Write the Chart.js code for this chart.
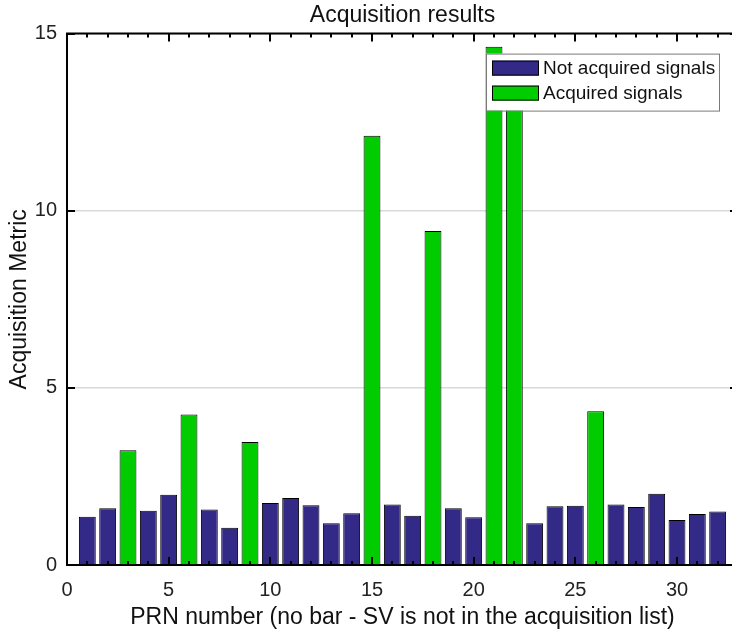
<!DOCTYPE html>
<html>
<head>
<meta charset="utf-8">
<script src="https://cdn.jsdelivr.net/npm/chart.js@4/dist/chart.umd.min.js"></script>
<style>
  html, body { margin: 0; padding: 0; background: #fff; overflow: hidden; }
  #wrap { width: 732px; height: 633px; overflow: hidden; }
</style>
</head>
<body>
<div id="wrap"><canvas id="acq" width="740" height="633"></canvas></div>
<script>
// PRN numbers and acquisition metric
const prns = [1, 2, 3, 4, 5, 6, 7, 8, 9, 10, 11, 12, 13, 14, 15, 16,
              17, 18, 19, 20, 21, 22, 23, 24, 25, 26, 27, 28, 29, 30, 31, 32];
const metric = [1.36, 1.60, 3.24, 1.53, 1.98, 4.25, 1.57, 1.05, 3.47, 1.75, 1.89, 1.69, 1.18, 1.46, 12.12, 1.71,
                1.39, 9.43, 1.60, 1.35, 14.63, 13.60, 1.18, 1.66, 1.67, 4.34, 1.71, 1.64, 2.01, 1.27, 1.44, 1.51];
const acquiredPrns = [3, 6, 9, 15, 18, 21, 22, 26];
const xTicks = [0, 5, 10, 15, 20, 25, 30];
const yTicks = [0, 5, 10, 15];

const NAVY = "#332a87";
const GREEN = "#00cc00";
const FONT = "'Liberation Sans', Arial, sans-serif";

const notAcq = [], acq = [];
prns.forEach((p, i) => {
  const pt = { x: p, y: metric[i] };
  if (acquiredPrns.includes(p)) acq.push(pt); else notAcq.push(pt);
});

/* =======================
   TICKS (inward) + TOP BORDER
======================= */
const boxTicks = {
  id: "boxTicks",
  afterDatasetsDraw(chart) {
    const { ctx, chartArea: a, scales: { x, y } } = chart;
    ctx.save();
    ctx.strokeStyle = "#000";
    ctx.lineWidth = 2;
    // minor + major ticks, top and bottom
    for (let v = x.min; v <= x.max; v++) {
      const px = Math.round(x.getPixelForValue(v));
      const len = xTicks.includes(v) ? 8 : 4;
      ctx.beginPath();
      ctx.moveTo(px, a.bottom); ctx.lineTo(px, a.bottom - len);
      ctx.moveTo(px, a.top); ctx.lineTo(px, a.top + len);
      ctx.stroke();
    }
    yTicks.forEach(v => {
      const py = Math.round(y.getPixelForValue(v));
      ctx.beginPath();
      ctx.moveTo(a.left, py); ctx.lineTo(a.left + 8, py);
      ctx.moveTo(a.right, py); ctx.lineTo(a.right - 8, py);
      ctx.stroke();
    });
    // top border
    ctx.beginPath();
    ctx.moveTo(a.left - 1, a.top); ctx.lineTo(a.right, a.top);
    ctx.stroke();
    ctx.restore();
  }
};

/* =======================
   LEGEND (inside axes)
======================= */
const boxLegend = {
  id: "boxLegend",
  afterDatasetsDraw(chart) {
    const { ctx, chartArea: a } = chart;
    const w = 233, h = 57;
    const lx = a.right - 19 - w, ly = a.top + 20;
    ctx.save();
    ctx.fillStyle = "#fff";
    ctx.fillRect(lx, ly, w, h);
    ctx.strokeStyle = "#7a7a7a";
    ctx.lineWidth = 1;
    ctx.strokeRect(lx + 0.5, ly + 0.5, w, h);
    ctx.font = "19px " + FONT;
    ctx.textBaseline = "middle";
    chart.data.datasets.forEach((ds, i) => {
      const sy = ly + 7 + i * 25;
      ctx.fillStyle = ds.backgroundColor;
      ctx.fillRect(lx + 6, sy, 47, 15);
      ctx.strokeStyle = "#000";
      ctx.strokeRect(lx + 6.5, sy + 0.5, 46, 14);
      ctx.fillStyle = "#111";
      ctx.fillText(ds.label, lx + 57, sy + 8);
    });
    ctx.restore();
  }
};

new Chart(document.getElementById("acq"), {
  type: "bar",
  data: {
    datasets: [
      { label: "Not acquired signals", data: notAcq, backgroundColor: NAVY,
        borderColor: "#000", borderWidth: 1 },
      { label: "Acquired signals", data: acq, backgroundColor: GREEN,
        borderColor: "#000", borderWidth: 1 }
    ]
  },
  options: {
    responsive: false,
    animation: false,
    layout: { padding: { left: 0, right: 2, top: 0, bottom: 0 } },
    datasets: { bar: { grouped: false, barPercentage: 0.83, categoryPercentage: 1 } },
    plugins: {
      legend: { display: false },
      tooltip: { enabled: false },
      title: {
        display: true,
        text: "Acquisition results",
        fullSize: false,
        color: "#111",
        font: { family: FONT, size: 23, weight: "normal" },
        padding: { top: 2, bottom: 4 }
      }
    },
    scales: {
      x: {
        type: "linear",
        min: 0,
        max: 33,
        offset: false,
        afterBuildTicks: s => { s.ticks = xTicks.map(v => ({ value: v })); },
        afterFit: s => { s.height = 68; },
        grid: { display: false, drawTicks: false, offset: false },
        border: { display: true, color: "#000", width: 2 },
        ticks: { color: "#222", padding: 13, maxRotation: 0, font: { family: FONT, size: 20 } },
        title: {
          display: true,
          text: "PRN number (no bar - SV is not in the acquisition list)",
          color: "#111",
          font: { family: FONT, size: 23 },
          padding: { top: 0, bottom: 2 }
        }
      },
      y: {
        min: 0,
        max: 15,
        afterBuildTicks: s => { s.ticks = yTicks.map(v => ({ value: v })); },
        afterFit: s => { s.width = 67; },
        grid: { color: "#d9d9d9", lineWidth: 1.5, drawTicks: false },
        border: { display: true, color: "#000", width: 2 },
        ticks: { color: "#222", padding: 10, font: { family: FONT, size: 20 } },
        title: {
          display: true,
          text: "Acquisition Metric",
          color: "#111",
          font: { family: FONT, size: 23 },
          padding: { top: 6, bottom: 0 }
        }
      }
    }
  },
  plugins: [boxTicks, boxLegend]
});
</script>
</body>
</html>
